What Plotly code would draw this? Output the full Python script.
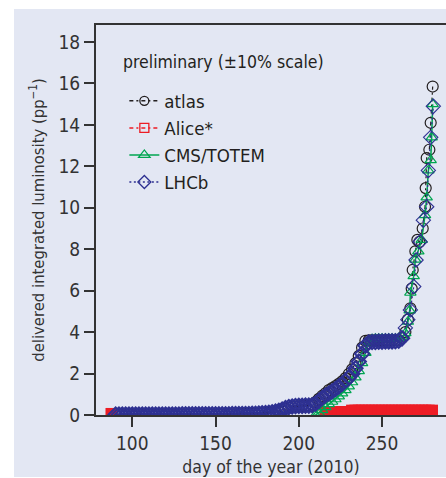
import plotly.graph_objects as go

# ---------------- data ----------------
DENSE_DAYS = [90, 92, 94, 96, 98, 100, 102, 104, 106, 108,
              110, 112, 114, 116, 118, 120, 122, 124, 126, 128,
              130, 132, 134, 136, 138, 140, 142, 144, 146, 148,
              150, 152, 154, 156, 158, 160, 162, 164, 166, 168,
              170, 172, 174, 176, 178, 180, 182, 184, 186, 188,
              190, 192, 194, 196, 198, 200, 202, 204, 206, 208,
              210, 212, 214, 216, 218, 220, 222, 224, 226, 228,
              230, 232, 234, 236, 238, 240, 242, 244, 246, 248,
              250, 252, 254, 256, 258, 260, 262]

LHCB_DENSE = [0.02, 0.02, 0.02, 0.02, 0.02, 0.02, 0.02, 0.02, 0.02, 0.02,
              0.02, 0.02, 0.02, 0.02, 0.02, 0.02, 0.02, 0.02, 0.02, 0.02,
              0.03, 0.03, 0.03, 0.03, 0.03, 0.03, 0.03, 0.03, 0.03, 0.03,
              0.03, 0.03, 0.03, 0.03, 0.03, 0.04, 0.04, 0.04, 0.05, 0.05,
              0.05, 0.06, 0.06, 0.07, 0.08, 0.09, 0.11, 0.13, 0.16, 0.20,
              0.26, 0.33, 0.38, 0.41, 0.43, 0.44, 0.44, 0.45, 0.45, 0.47,
              0.55, 0.68, 0.82, 0.94, 1.04, 1.14, 1.25, 1.37, 1.50, 1.64,
              1.80, 1.98, 2.25, 2.58, 2.95, 3.35, 3.50, 3.52, 3.53, 3.54,
              3.54, 3.55, 3.55, 3.55, 3.56, 3.58, 3.70]
LHCB_STEEP_DAYS = [264, 265.5, 267, 269, 270.4, 272.8, 274.8, 276.8, 277.8, 279.2, 280.8]
LHCB_STEEP = [4.2, 4.6, 5.07, 6.2, 7.48, 8.36, 9.4, 10.05, 11.8, 13.4, 14.9]

ATLAS_DENSE = [0.01, 0.01, 0.01, 0.01, 0.01, 0.01, 0.01, 0.01, 0.01, 0.01,
               0.01, 0.01, 0.01, 0.01, 0.01, 0.01, 0.01, 0.01, 0.01, 0.01,
               0.02, 0.02, 0.02, 0.02, 0.02, 0.02, 0.02, 0.02, 0.02, 0.02,
               0.02, 0.02, 0.02, 0.03, 0.03, 0.03, 0.03, 0.04, 0.04, 0.04,
               0.05, 0.05, 0.06, 0.07, 0.08, 0.09, 0.10, 0.12, 0.15, 0.19,
               0.24, 0.30, 0.35, 0.38, 0.40, 0.42, 0.43, 0.44, 0.45, 0.50,
               0.62, 0.78, 0.92, 1.05, 1.20, 1.30, 1.40, 1.50, 1.62, 1.78,
               1.98, 2.20, 2.50, 2.85, 3.25, 3.58, 3.60, 3.60, 3.60, 3.60,
               3.60, 3.60, 3.60, 3.60, 3.60, 3.62, 3.72]
ATLAS_STEEP_DAYS = [264, 265.5, 267, 267.8, 268.4, 270, 271.2, 272.4, 274.4,
                    275.8, 276.2, 276.8, 278.4, 279.2, 280.4]
ATLAS_STEEP = [4.0, 4.6, 5.15, 6.1, 7.0, 7.9, 8.45, 8.35, 9.0,
               10.05, 10.95, 12.4, 12.8, 14.1, 15.85]

CMS_DAYS = [210, 212, 214, 216, 218, 220, 222, 224, 226, 228,
            230, 232, 234, 236, 238, 240, 242, 244, 246, 248,
            250, 252, 254, 256, 258, 260, 262]
CMS_DENSE = [0.00, 0.10, 0.24, 0.38, 0.52, 0.64, 0.76, 0.90, 1.04, 1.20,
             1.38, 1.58, 1.82, 2.12, 2.50, 3.00, 3.50, 3.66, 3.68, 3.68,
             3.68, 3.68, 3.68, 3.68, 3.68, 3.70, 3.78]
CMS_STEEP_DAYS = [264, 265.5, 266.6, 267, 269, 270, 271.8, 273.8, 275.8,
                  276.8, 277.8, 279.2, 279.8, 280.4]
CMS_STEEP = [3.95, 4.5, 5.05, 5.9, 6.7, 7.5, 7.9, 8.45, 9.65,
             10.5, 11.8, 12.3, 13.4, 15.0]

ALICE_DAYS = [87.5, 216, 218, 220, 222, 224, 226, 228, 230, 232, 234, 236, 238,
              240, 242, 244, 246, 248, 250, 252, 254, 256, 258, 260, 262, 264,
              266, 268, 270, 272, 274, 276, 278, 280]
ALICE_LUMI = [0.05, 0.14, 0.14, 0.14, 0.14, 0.14, 0.14, 0.14, 0.14, 0.21, 0.21,
              0.21, 0.21, 0.21, 0.21, 0.21, 0.21, 0.21, 0.21, 0.21, 0.21, 0.21,
              0.21, 0.21, 0.21, 0.21, 0.21, 0.21, 0.21, 0.21, 0.21, 0.21, 0.21,
              0.21]

SERIES_NAMES = ["atlas", "Alice*", "CMS/TOTEM", "LHCb"]
X_TICKS = [100, 150, 200, 250]
Y_TICKS = [0, 2, 4, 6, 8, 10, 12, 14, 16, 18]

# ---------------- styling ----------------
BG = "#e3e7f3"
FONT = "Liberation Sans Narrow, DejaVu Sans Condensed, Arial Narrow, sans-serif"
C_ATLAS = "#231f20"
C_ALICE = "#ed1c24"
C_CMS = "#00a651"
C_LHCB = "#2e3192"
DASHDOT = "4px,3px,2px,3px"
DOT = "2px,2.5px"

fig = go.Figure()

# data traces (not in legend)
fig.add_trace(go.Scatter(
    x=DENSE_DAYS + ATLAS_STEEP_DAYS, y=ATLAS_DENSE + ATLAS_STEEP,
    mode="lines+markers", showlegend=False,
    line=dict(color=C_ATLAS, width=1.2, dash=DASHDOT),
    marker=dict(symbol="circle-open", size=11, color=C_ATLAS, line=dict(width=1.2))))
fig.add_trace(go.Scatter(
    x=ALICE_DAYS, y=ALICE_LUMI, mode="markers", showlegend=False,
    marker=dict(symbol="square", size=12, color=C_ALICE, line=dict(width=0))))
fig.add_trace(go.Scatter(
    x=CMS_DAYS + CMS_STEEP_DAYS, y=CMS_DENSE + CMS_STEEP,
    mode="lines+markers", showlegend=False,
    line=dict(color=C_CMS, width=1.5),
    marker=dict(symbol="triangle-up-open", size=10, color=C_CMS, line=dict(width=1.2))))
lhcb_line_w = [2.0] * len(LHCB_DENSE) + [1.1] * len(LHCB_STEEP)
fig.add_trace(go.Scatter(
    x=DENSE_DAYS + LHCB_STEEP_DAYS, y=LHCB_DENSE + LHCB_STEEP,
    mode="lines+markers", showlegend=False,
    line=dict(color=C_LHCB, width=1.3, dash=DOT),
    marker=dict(symbol="diamond-open", size=11, color=C_LHCB,
                line=dict(width=lhcb_line_w))))

# legend-only traces
leg_styles = [
    (C_ATLAS, DASHDOT, "circle-open", 9),
    (C_ALICE, DASHDOT, "square-open", 9),
    (C_CMS, "solid", "triangle-up-open", 10),
    (C_LHCB, DOT, "diamond-open", 10),
]
for name, (col, dash, sym, sz) in zip(SERIES_NAMES, leg_styles):
    fig.add_trace(go.Scatter(
        x=[None], y=[None], name=name, mode="lines+markers",
        line=dict(color=col, width=1.5, dash=dash),
        marker=dict(symbol=sym, size=sz, color=col, line=dict(width=1.3))))

fig.update_layout(
    width=446, height=478,
    margin=dict(l=96, r=0, t=25, b=63),
    paper_bgcolor="white", plot_bgcolor=BG,
    font=dict(family=FONT, size=19, color="#231f20"),
    showlegend=True,
    legend=dict(x=0.081, y=0.853, xanchor="left", yanchor="top",
                bgcolor="rgba(0,0,0,0)", borderwidth=0,
                font=dict(family=FONT, size=18.5, color="#231f20"),
                itemwidth=30, tracegroupgap=0),
    shapes=[dict(type="rect", xref="paper", yref="paper",
                 x0=-0.2343, x1=1.01, y0=-0.159, y1=1.041,
                 fillcolor=BG, line=dict(width=0), layer="below")],
    annotations=[dict(text="preliminary (±10% scale)", xref="paper", yref="paper",
                      x=0.072, y=0.905, xanchor="left", yanchor="middle",
                      showarrow=False,
                      font=dict(family=FONT, size=17.5, color="#231f20"))],
)

fig.update_xaxes(
    range=[78.2, 288.4], tickvals=X_TICKS, ticktext=[str(v) for v in X_TICKS],
    showline=True, linecolor="#333333", linewidth=2, mirror=True,
    ticks="outside", ticklen=10, tickwidth=1.5, tickcolor="#333333",
    showgrid=False, zeroline=False,
    tickfont=dict(family=FONT, size=19, color="#333333"),
    title=dict(text="day of the year (2010)", standoff=8,
               font=dict(family=FONT, size=17.5, color="#333333")))
fig.update_yaxes(
    range=[0, 18.82], tickvals=Y_TICKS, ticktext=[str(v) for v in Y_TICKS],
    showline=True, linecolor="#333333", linewidth=2, mirror=False,
    ticks="outside", ticklen=10, tickwidth=1.5, tickcolor="#333333",
    showgrid=False, zeroline=False,
    tickfont=dict(family=FONT, size=19, color="#333333"),
    title=dict(text="delivered integrated luminosity (pp<sup>−1</sup>)", standoff=10,
               font=dict(family=FONT, size=16.5, color="#333333")))

fig.write_html("out.html")
